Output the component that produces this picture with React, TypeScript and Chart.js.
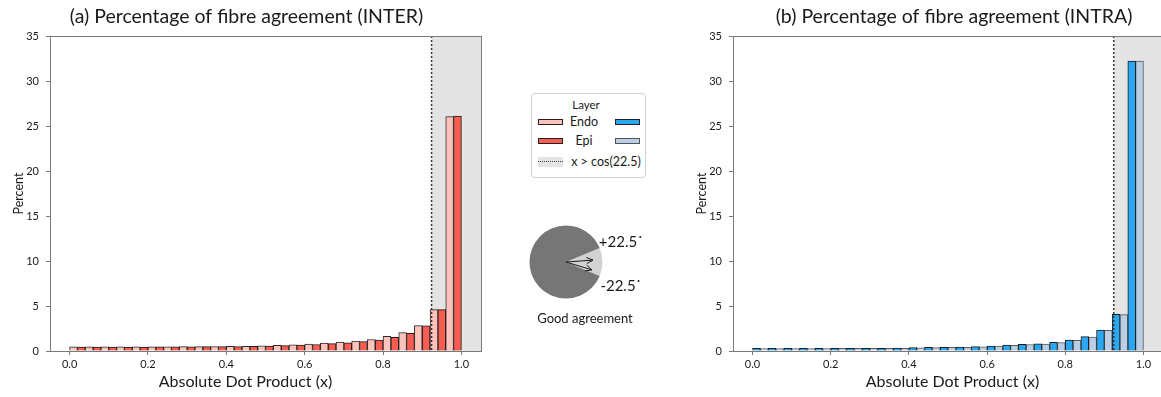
import React, { useEffect, useRef } from "react";
import { Chart, registerables } from "chart.js";

Chart.register(...registerables);

const FONT = "Lato, 'Open Sans', sans-serif";

// ---- data ----
const binStarts = [0.0, 0.04, 0.08, 0.12, 0.16, 0.2, 0.24, 0.28, 0.32, 0.36, 0.4, 0.44, 0.48, 0.52, 0.56, 0.6, 0.64, 0.68, 0.72, 0.76, 0.8, 0.84, 0.88, 0.92, 0.96];
const binWidth = 0.04;
const interEndo = [0.45, 0.45, 0.45, 0.45, 0.46, 0.46, 0.47, 0.48, 0.49, 0.5, 0.51, 0.53, 0.57, 0.62, 0.68, 0.76, 0.88, 0.98, 1.1, 1.28, 1.62, 2.05, 2.82, 4.6, 26.05];
const interEpi = [0.43, 0.43, 0.43, 0.44, 0.44, 0.45, 0.46, 0.47, 0.48, 0.49, 0.5, 0.52, 0.55, 0.6, 0.65, 0.72, 0.82, 0.92, 1.04, 1.22, 1.52, 1.97, 2.8, 4.6, 26.1];
const intraEndo = [0.3, 0.3, 0.3, 0.3, 0.3, 0.3, 0.3, 0.3, 0.3, 0.32, 0.38, 0.4, 0.42, 0.44, 0.48, 0.56, 0.67, 0.74, 0.81, 0.96, 1.22, 1.59, 2.33, 4.07, 32.2];
const intraEpi = [0.28, 0.28, 0.28, 0.28, 0.28, 0.29, 0.29, 0.29, 0.3, 0.31, 0.36, 0.38, 0.4, 0.42, 0.46, 0.54, 0.64, 0.72, 0.78, 0.93, 1.18, 1.55, 2.3, 4.05, 32.2];
const xTicks = [0.0, 0.2, 0.4, 0.6, 0.8, 1.0];
const yTicks = [0, 5, 10, 15, 20, 25, 30, 35];
const agreementAngle = 22.5; // degrees
const threshold = Math.cos((agreementAngle * Math.PI) / 180);
const pieValues = [2 * agreementAngle, 360 - 2 * agreementAngle];
const arrowAngles = [-4, 17];

// ---- colours ----
const PINK = "#FFC3BB";
const RED = "#F95D51";
const BLUE = "#2BA7F1";
const LIGHTBLUE = "#B9CFE6";
const SHADE = "#E4E4E4";
const AXIS = "#7a7a7a";
const TEXT = "#1a1a1a";

const decorPlugin = {
  id: "decor",
  beforeDatasetsDraw(chart: any, _args: any, opts: any) {
    const { ctx, chartArea: a, scales } = chart;
    const px = scales.x.getPixelForValue(opts.threshold);
    ctx.save();
    ctx.fillStyle = opts.shade;
    ctx.fillRect(px, a.top, a.right - px, a.bottom - a.top);
    ctx.restore();
  },
  afterDatasetsDraw(chart: any, _args: any, opts: any) {
    const { ctx, chartArea: a, scales } = chart;
    const px = scales.x.getPixelForValue(opts.threshold);
    ctx.save();
    ctx.strokeStyle = "#333";
    ctx.lineWidth = 1.5;
    ctx.setLineDash([2, 2]);
    ctx.beginPath();
    ctx.moveTo(px, a.top);
    ctx.lineTo(px, a.bottom);
    ctx.stroke();
    ctx.restore();
  },
  afterDraw(chart: any, _args: any, opts: any) {
    const { ctx, chartArea: a } = chart;
    ctx.save();
    ctx.strokeStyle = AXIS;
    ctx.lineWidth = 1;
    ctx.strokeRect(Math.round(a.left) + 0.5, Math.round(a.top) + 0.5, Math.round(a.right - a.left), Math.round(a.bottom - a.top));
    ctx.fillStyle = TEXT;
    ctx.textAlign = "center";
    ctx.textBaseline = "middle";
    ctx.font = `19.5px ${FONT}`;
    ctx.fillText(opts.title, opts.titleX, 17);
    ctx.font = `16px ${FONT}`;
    ctx.fillText(opts.xTitle, opts.xTitleX, 382);
    ctx.restore();
  },
};

type HistProps = {
  left: number;
  width: number;
  padRight: number;
  title: string;
  titleX: number;
  xTitleX: number;
  endo: number[];
  epi: number[];
  endoColor: string;
  epiColor: string;
  endoBorder: string;
  epiBorder: string;
};

function Histogram(p: HistProps) {
  const ref = useRef<HTMLCanvasElement>(null);
  useEffect(() => {
    const tickFont = { family: FONT, size: 11 };
    const chart = new Chart(ref.current as HTMLCanvasElement, {
      type: "bar",
      data: {
        datasets: [
          {
            label: "Endo",
            data: binStarts.map((b, i) => ({ x: b + binWidth / 2, y: p.endo[i] })),
            backgroundColor: p.endoColor,
            borderColor: p.endoBorder,
            borderWidth: 1,
            barPercentage: 1,
            categoryPercentage: 1,
          },
          {
            label: "Epi",
            data: binStarts.map((b, i) => ({ x: b + binWidth / 2, y: p.epi[i] })),
            backgroundColor: p.epiColor,
            borderColor: p.epiBorder,
            borderWidth: 1,
            barPercentage: 1,
            categoryPercentage: 1,
          },
        ],
      } as any,
      options: {
        animation: false,
        responsive: false,
        devicePixelRatio: 1,
        layout: { padding: { top: 36, right: p.padRight, left: 0, bottom: 0 } },
        plugins: {
          legend: { display: false },
          tooltip: { enabled: false },
          title: { display: false },
          decor: {
            threshold,
            shade: SHADE,
            title: p.title,
            titleX: p.titleX,
            xTitle: "Absolute Dot Product (x)",
            xTitleX: p.xTitleX,
          },
        } as any,
        scales: {
          x: {
            type: "linear",
            min: -0.05,
            max: 1.05,
            offset: false,
            afterBuildTicks: (s: any) => {
              s.ticks = xTicks.map((v) => ({ value: v }));
            },
            afterFit: (s: any) => {
              s.height = 46;
            },
            ticks: {
              font: tickFont,
              color: TEXT,
              padding: 3,
              maxRotation: 0,
              autoSkip: false,
              callback: (v: any) => Number(v).toFixed(1),
            },
            grid: { display: true, drawOnChartArea: false, drawTicks: true, tickLength: 4, color: AXIS, offset: false },
            border: { display: true, color: AXIS },
          },
          y: {
            type: "linear",
            min: 0,
            max: 35,
            afterBuildTicks: (s: any) => {
              s.ticks = yTicks.map((v) => ({ value: v }));
            },
            afterFit: (s: any) => {
              s.width = 50;
            },
            ticks: { font: tickFont, color: TEXT, padding: 7, callback: (v: any) => String(v) },
            grid: { display: true, drawOnChartArea: false, drawTicks: true, tickLength: 4, color: AXIS },
            border: { display: true, color: AXIS },
            title: {
              display: true,
              text: "Percent",
              color: TEXT,
              font: { family: FONT, size: 12.5 },
              padding: { top: 11, bottom: 0 },
            },
          },
        } as any,
      },
      plugins: [decorPlugin as any],
    });
    return () => chart.destroy();
  }, []);
  return (
    <canvas
      ref={ref}
      width={p.width}
      height={397}
      style={{ position: "absolute", left: p.left, top: 0, width: p.width, height: 397 }}
    />
  );
}

const arrowPlugin = {
  id: "arrows",
  afterDraw(chart: any) {
    const arc = chart.getDatasetMeta(0).data[0];
    if (!arc) return;
    const { ctx } = chart;
    const cx = arc.x;
    const cy = arc.y;
    const len = 27;
    ctx.save();
    ctx.strokeStyle = "#1a1a1a";
    ctx.lineWidth = 1;
    for (const a of arrowAngles) {
      const r = (a * Math.PI) / 180;
      const ex = cx + len * Math.cos(r);
      const ey = cy + len * Math.sin(r);
      ctx.beginPath();
      ctx.moveTo(cx, cy);
      ctx.lineTo(ex, ey);
      const h = 7;
      for (const d of [-0.45, 0.45]) {
        ctx.moveTo(ex, ey);
        ctx.lineTo(ex - h * Math.cos(r + d), ey - h * Math.sin(r + d));
      }
      ctx.stroke();
    }
    ctx.restore();
  },
};

function PieDiagram() {
  const ref = useRef<HTMLCanvasElement>(null);
  useEffect(() => {
    const chart = new Chart(ref.current as HTMLCanvasElement, {
      type: "pie",
      data: {
        labels: ["Good agreement", "Other"],
        datasets: [
          {
            data: pieValues,
            backgroundColor: ["#D2D2D2", "#767676"],
            borderWidth: 0,
          },
        ],
      },
      options: {
        animation: false,
        responsive: false,
        devicePixelRatio: 1,
        rotation: 90 - agreementAngle,
        radius: 36.5,
        layout: { padding: 0 },
        plugins: { legend: { display: false }, tooltip: { enabled: false } },
      } as any,
      plugins: [arrowPlugin as any],
    });
    return () => chart.destroy();
  }, []);
  return (
    <canvas
      ref={ref}
      width={80}
      height={80}
      style={{ position: "absolute", left: 526, top: 222, width: 80, height: 80 }}
    />
  );
}

function Label(props: { x: number; y: number; size: number; children: React.ReactNode }) {
  return (
    <div
      style={{
        position: "absolute",
        left: props.x,
        top: props.y,
        transform: "translate(-50%, -50%)",
        fontSize: props.size,
        lineHeight: 1,
        whiteSpace: "nowrap",
        fontFamily: FONT,
        color: TEXT,
      }}
    >
      {props.children}
    </div>
  );
}

function Swatch(props: { x: number; y: number; color: string; border?: string }) {
  return (
    <div
      style={{
        position: "absolute",
        left: props.x,
        top: props.y,
        width: 25,
        height: 6,
        boxSizing: "border-box",
        background: props.color,
        border: `1px solid ${props.border || "#222"}`,
      }}
    />
  );
}

function Legend() {
  return (
    <div
      style={{
        position: "absolute",
        left: 531,
        top: 93,
        width: 115,
        height: 85,
        boxSizing: "border-box",
        border: "1px solid #cfcfcf",
        borderRadius: 4,
        background: "#fff",
      }}
    >
      <Label x={54} y={11} size={11.5}>Layer</Label>
      <Swatch x={6} y={25} color={PINK} />
      <Label x={52} y={28} size={12.5}>Endo</Label>
      <Swatch x={83} y={25} color={BLUE} />
      <Swatch x={6} y={44} color={RED} />
      <Label x={52} y={47} size={12.5}>Epi</Label>
      <Swatch x={83} y={44} color={LIGHTBLUE} border="#555" />
      <div style={{ position: "absolute", left: 6, top: 63, width: 25, height: 10, background: SHADE }}>
        <div style={{ position: "absolute", left: 0, top: 4, width: 25, borderTop: "1.5px dotted #444" }} />
      </div>
      <Label x={74} y={68} size={12.5}>x &gt; cos(22.5)</Label>
    </div>
  );
}

export default function App() {
  return (
    <div
      style={{
        position: "fixed",
        left: 0,
        top: 0,
        width: 1161,
        height: 397,
        overflow: "hidden",
        background: "#fff",
      }}
    >
      <Histogram
        left={0}
        width={490}
        padRight={9}
        title="(a) Percentage of fibre agreement (INTER)"
        titleX={246.5}
        xTitleX={245.5}
        endo={interEndo}
        epi={interEpi}
        endoColor={PINK}
        epiColor={RED}
        endoBorder="#2a2a2a"
        epiBorder="#1a1a1a"
      />
      <Histogram
        left={683}
        width={490}
        padRight={10}
        title="(b) Percentage of fibre agreement (INTRA)"
        titleX={271}
        xTitleX={269.5}
        endo={intraEndo}
        epi={intraEpi}
        endoColor={BLUE}
        epiColor={LIGHTBLUE}
        endoBorder="#1a1a1a"
        epiBorder="#5a5a5a"
      />
      <Legend />
      <PieDiagram />
      <Label x={621} y={241} size={15}>+22.5˙</Label>
      <Label x={621} y={285} size={15}>-22.5˙</Label>
      <Label x={585} y={318} size={13}>Good agreement</Label>
    </div>
  );
}
